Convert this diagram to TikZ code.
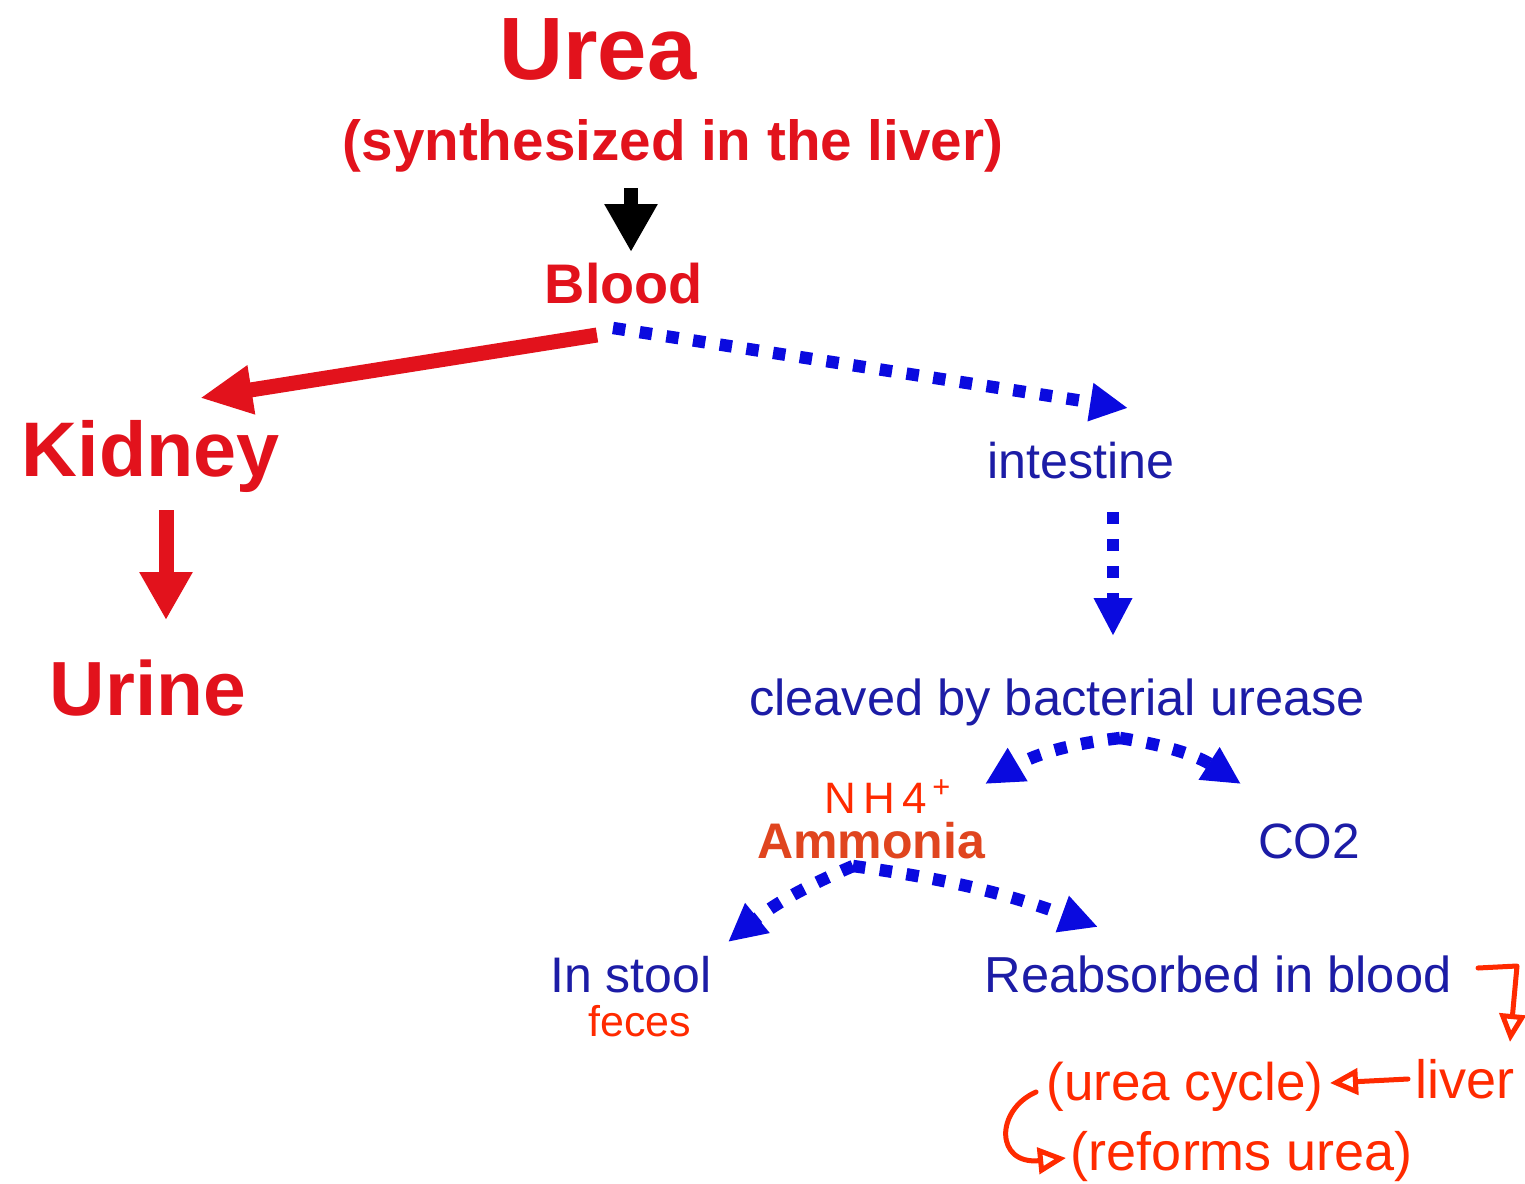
\documentclass[tikz,border=0pt]{standalone}
\usepackage{fontspec}
\setmainfont{Liberation Sans}
\usetikzlibrary{arrows.meta}
\definecolor{tred}{HTML}{E2121C}
\definecolor{tamm}{HTML}{E0451F}
\definecolor{tblue}{HTML}{1C1CA6}
\definecolor{ablue}{HTML}{0A0ADF}
\definecolor{hred}{HTML}{FF2A00}
\newcommand{\setfs}[1]{\fontsize{#1}{#1}\selectfont}
\begin{document}
\begin{tikzpicture}[x=0.5pt,y=-0.5pt,
  lab/.style={inner sep=0pt, anchor=base},
  bigred/.style={lab, text=tred, font=\bfseries\setfs{#1}},
  bluetxt/.style={lab, text=tblue, font=\setfs{25.3pt}},
  handw/.style={lab, text=hred, font=\setfs{#1}},
  solidarrow/.style={line width=#1, -{Triangle[length=24pt,width=25pt]}},
  dotarrow/.style={ablue, line width=6.2pt, dash pattern=on 6.2pt off 7.3pt, line cap=butt,
     -{Triangle[length=19pt,width=18pt]}},
  handarrow/.style={hred, line width=2.5pt, line cap=round, line join=round,
     -{Triangle[open,length=14pt,width=13pt,line width=2.5pt]}}
]
\useasboundingbox[fill=white] (0,0) rectangle (1525,1183);

% main texts
\node[bigred=44.3pt] (urea) at (598,79) {Urea};
\node[bigred=28.3pt] (synth) at (673,160) {(synthesized in the liver)};
\node[bigred=27.9pt] (blood) at (624,303) {Blood};
\node[bigred=38.7pt] (kidney) at (151,476) {Kidney};
\node[bigred=38.4pt] (urine) at (148,715) {Urine};
\node[bluetxt, font=\setfs{25.1pt}] (intestine) at (1081,478) {intestine};
\node[bluetxt] (cleaved) at (1057,715) {cleaved by bacterial urease};
\node[lab, text=tamm, font=\bfseries\setfs{25pt}] (ammonia) at (871,858) {Ammonia};
\node[bluetxt, font=\setfs{24.8pt}] (co2) at (1309,858) {CO2};
\node[bluetxt, font=\setfs{25pt}] (stool) at (631,992) {In stool};
\node[bluetxt] (reab) at (1218,992) {Reabsorbed in blood};

% handwritten annotations
\node[handw=22pt] (nh4) at (888,813) {N\,H\,4\textsuperscript{\,+}};
\node[handw=21.5pt] (feces) at (640,1036) {feces};
\node[handw=27pt] (liver) at (1465,1098) {liver};
\node[handw=26.5pt] (ucycle) at (1185,1100) {(urea cycle)};
\node[handw=27pt] (reform) at (1242,1170) {(reforms urea)};

% connector end points
\coordinate (syntOut) at (631,188);
\coordinate (bloodIn) at (631,252);
\coordinate (bloodL) at (597,335);
\coordinate (kidIn) at (200,398);
\coordinate (bloodR) at (613,328);
\coordinate (intIn) at (1128,408);
\coordinate (kidOut) at (166,510);
\coordinate (urIn) at (166,620);
\coordinate (intOut) at (1113,512);
\coordinate (clvIn) at (1113,636);
\coordinate (clvTop) at (1120,738);
\coordinate (ammIn) at (985,784);
\coordinate (coIn) at (1241,784);
\coordinate (ammOut) at (853,866);
\coordinate (stIn) at (728,942);
\coordinate (reIn) at (1098,927);
\coordinate (reOut) at (1478,968);
\coordinate (hookC) at (1517,966);
\coordinate (livIn) at (1510,1042);
\coordinate (livOut) at (1408,1079);
\coordinate (ucIn) at (1330,1083);
\coordinate (ucOut) at (1036,1092);
\coordinate (rfIn) at (1066,1158);

% connectors
\draw[solidarrow=7pt, black] (syntOut) -- (bloodIn);
\draw[tred, line width=7.5pt, -{Triangle[length=26pt,width=23pt]}] (bloodL) -- (kidIn);
\draw[tred, solidarrow=7.5pt] (kidOut) -- (urIn);
\draw[dotarrow] (bloodR) -- (intIn);
\draw[dotarrow] (intOut) -- (clvIn);
\draw[dotarrow] (clvTop) to[bend right=12] (ammIn);
\draw[dotarrow] (clvTop) to[bend left=12] (coIn);
\draw[dotarrow] (ammOut) to[bend right=8] (stIn);
\draw[dotarrow] (ammOut) to[bend left=6] (reIn);

% handwritten arrows
\draw[handarrow] (reOut) -- (hookC) -- (livIn);
\draw[handarrow] (livOut) -- (ucIn);
\draw[handarrow] (ucOut) .. controls (995,1110) and (995,1165) .. (rfIn);
\end{tikzpicture}
\end{document}
